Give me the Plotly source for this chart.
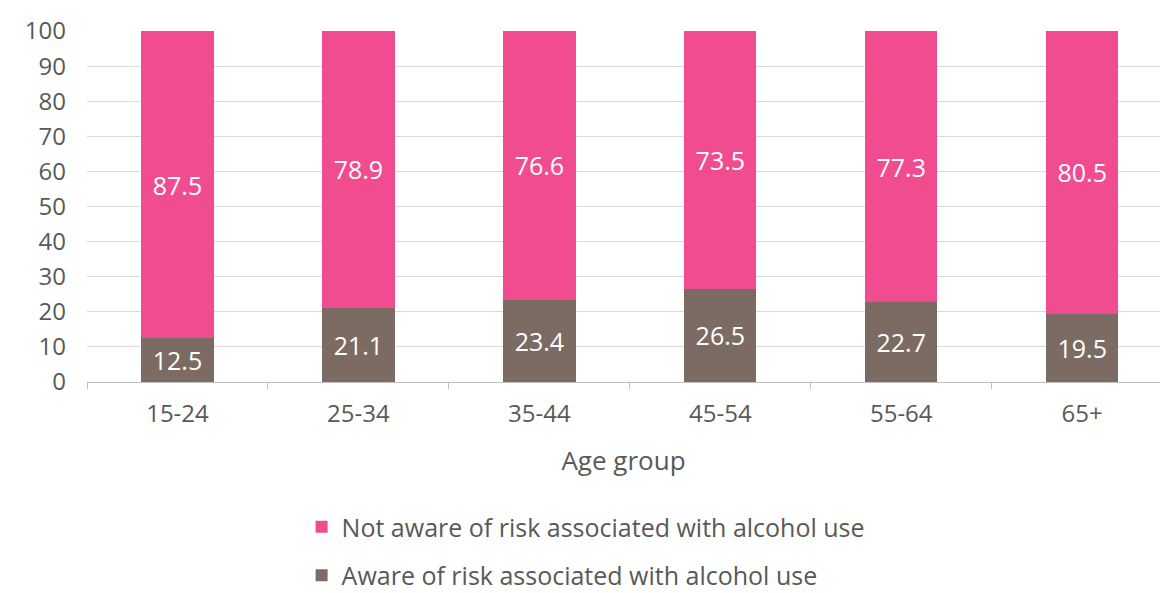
import plotly.graph_objects as go

categories = ["15-24", "25-34", "35-44", "45-54", "55-64", "65+"]
aware = [12.5, 21.1, 23.4, 26.5, 22.7, 19.5]
not_aware = [87.5, 78.9, 76.6, 73.5, 77.3, 80.5]
y_ticks = list(range(0, 101, 10))

PINK = "#F04C8F"
BROWN = "#7B6B63"
GREY = "#595959"
FONT = "Open Sans"

fig = go.Figure()
fig.add_trace(go.Bar(
    x=categories, y=aware, name="Aware of risk associated with alcohol use",
    marker=dict(color=BROWN, line=dict(width=0)),
    text=[f"{v:.1f}" for v in aware], textposition="inside",
    insidetextanchor="middle", textangle=0,
    textfont=dict(color="white", size=25, family=FONT),
    width=0.4, legendrank=2, legendgroup="a",
))
fig.add_trace(go.Bar(
    x=categories, y=not_aware, name="Not aware of risk associated with alcohol use",
    marker=dict(color=PINK, line=dict(width=0)),
    text=[f"{v:.1f}" for v in not_aware], textposition="inside",
    insidetextanchor="middle", textangle=0,
    textfont=dict(color="white", size=25, family=FONT),
    width=0.4, legendrank=1, legendgroup="b",
))

fig.update_layout(
    barmode="stack",
    width=1160, height=593,
    margin=dict(l=87, r=0, t=31, b=211, autoexpand=False),
    paper_bgcolor="white", plot_bgcolor="white",
    font=dict(family=FONT, color=GREY, size=20),
    uniformtext=dict(minsize=8, mode="show"),
    xaxis=dict(
        type="category", range=[-0.5, 5.43], automargin=False,
        showline=True, linecolor="#BFBFBF", linewidth=1,
        ticks="outside", tickson="boundaries", ticklen=6, tickcolor="#BFBFBF",
        tickfont=dict(size=24, color=GREY, family=FONT),
        ticklabelstandoff=10,
        title=dict(text="Age group", font=dict(size=26, color=GREY, family=FONT), standoff=24),
        showgrid=False,
    ),
    yaxis=dict(
        range=[0, 100], tickvals=y_ticks, ticktext=[str(v) for v in y_ticks],
        automargin=False,
        showgrid=True, gridcolor="#D9D9D9", gridwidth=1,
        zeroline=False, showline=False,
        tickfont=dict(size=24, color=GREY, family=FONT),
        ticklabelstandoff=20,
    ),
    legend=dict(
        orientation="v", x=0.2, y=0.15, xanchor="left", yanchor="top",
        yref="container",
        font=dict(size=25, color=GREY, family=FONT),
        tracegroupgap=13, traceorder="grouped",
    ),
    showlegend=True,
)

fig.write_html("out.html")
